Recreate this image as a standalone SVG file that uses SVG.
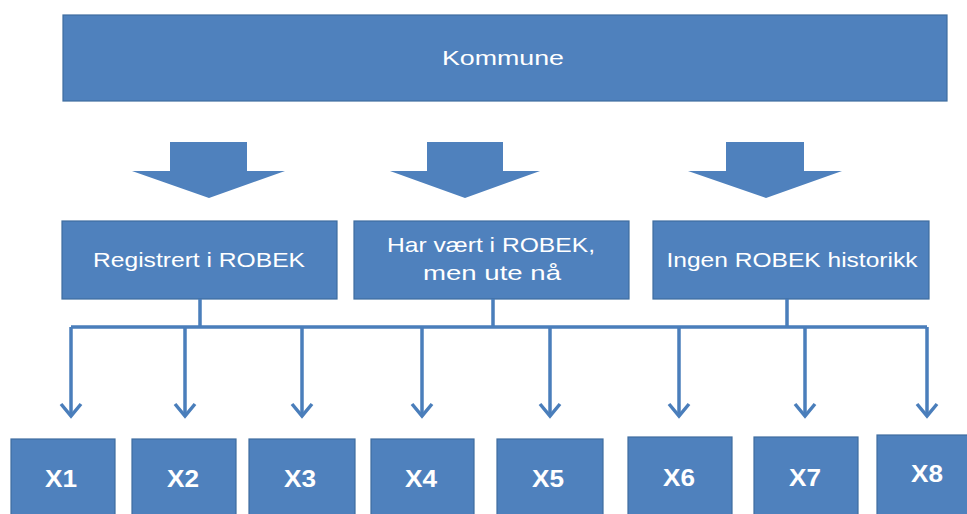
<svg xmlns="http://www.w3.org/2000/svg" width="967" height="514" viewBox="0 0 967 514">
  <defs>
    <style>
      .box { fill: #4F81BD; stroke: #3F6D9F; stroke-width: 1.2; }
      .big { fill: #4F81BD; stroke: none; }
      .lbl { fill: #FFFFFF; font-family: "Liberation Sans", Arial, sans-serif; font-size: 21px; text-anchor: middle; }
      .xl { fill: #FFFFFF; font-family: "Liberation Sans", Arial, sans-serif; font-size: 23px; font-weight: bold; text-anchor: middle; }
      .con { fill: none; stroke: #4A7EBB; stroke-width: 3.5; }
      .drop { fill: none; stroke: #4A7EBB; stroke-width: 3.5; marker-end: url(#vhead); }
    </style>
    <marker id="vhead" markerUnits="userSpaceOnUse" orient="auto" refX="0" refY="0" markerWidth="30" markerHeight="30" overflow="visible">
      <path d="M-12,-10 L0,0 L-12,10" fill="none" stroke="#4A7EBB" stroke-width="3.5" stroke-linejoin="miter"/>
    </marker>
  </defs>
  <rect width="967" height="514" fill="#FFFFFF"/>

  <g id="kommune">
    <rect class="box" x="63" y="15" width="884" height="86"/>
    <text class="lbl" x="503" y="65" textLength="122" lengthAdjust="spacingAndGlyphs">Kommune</text>
  </g>

  <g id="big-arrows">
    <polygon id="arrow1" class="big" points="170,142 247,142 247,171 285,171 209,198 132,171 170,171"/>
    <polygon id="arrow2" class="big" points="427,142 503,142 503,171 540,171 465,198 390,171 427,171"/>
    <polygon id="arrow3" class="big" points="726,142 804,142 804,171 842,171 766,198 688,171 726,171"/>
  </g>

  <g id="registrert">
    <rect class="box" x="62" y="221" width="275" height="78"/>
    <text class="lbl" x="199" y="267" textLength="212" lengthAdjust="spacingAndGlyphs">Registrert i ROBEK</text>
  </g>
  <g id="har-vaert">
    <rect class="box" x="354" y="221" width="275" height="78"/>
    <text class="lbl" x="491" y="252" textLength="208" lengthAdjust="spacingAndGlyphs">Har vært i ROBEK,</text>
    <text class="lbl" x="492" y="280" textLength="138" lengthAdjust="spacingAndGlyphs">men ute nå</text>
  </g>
  <g id="ingen">
    <rect class="box" x="653" y="221" width="276" height="78"/>
    <text class="lbl" x="792" y="267" textLength="251" lengthAdjust="spacingAndGlyphs">Ingen ROBEK historikk</text>
  </g>

  <g id="connectors">
    <path class="con" d="M200,299 V327 M493,299 V327 M787,299 V327 M71,327 H927"/>
    <path class="drop" d="M71,327 V416"/>
    <path class="drop" d="M185,327 V416"/>
    <path class="drop" d="M302,327 V416"/>
    <path class="drop" d="M422,327 V416"/>
    <path class="drop" d="M550,327 V416"/>
    <path class="drop" d="M679,327 V416"/>
    <path class="drop" d="M805,327 V416"/>
    <path class="drop" d="M927,327 V416"/>
  </g>

  <g id="x1">
    <rect class="box" x="11" y="439" width="104" height="90"/>
    <text class="xl" x="61" y="487" textLength="32" lengthAdjust="spacingAndGlyphs">X1</text>
  </g>
  <g id="x2">
    <rect class="box" x="132" y="439" width="104" height="90"/>
    <text class="xl" x="183" y="487" textLength="32" lengthAdjust="spacingAndGlyphs">X2</text>
  </g>
  <g id="x3">
    <rect class="box" x="249" y="439" width="106" height="90"/>
    <text class="xl" x="300" y="487" textLength="32" lengthAdjust="spacingAndGlyphs">X3</text>
  </g>
  <g id="x4">
    <rect class="box" x="371" y="439" width="103" height="90"/>
    <text class="xl" x="421" y="487" textLength="32" lengthAdjust="spacingAndGlyphs">X4</text>
  </g>
  <g id="x5">
    <rect class="box" x="497" y="439" width="106" height="90"/>
    <text class="xl" x="548" y="487" textLength="32" lengthAdjust="spacingAndGlyphs">X5</text>
  </g>
  <g id="x6">
    <rect class="box" x="628" y="437" width="104" height="90"/>
    <text class="xl" x="679" y="486" textLength="32" lengthAdjust="spacingAndGlyphs">X6</text>
  </g>
  <g id="x7">
    <rect class="box" x="754" y="437" width="104" height="90"/>
    <text class="xl" x="805" y="486" textLength="32" lengthAdjust="spacingAndGlyphs">X7</text>
  </g>
  <g id="x8">
    <rect class="box" x="877" y="435" width="104" height="90"/>
    <text class="xl" x="927" y="482" textLength="32" lengthAdjust="spacingAndGlyphs">X8</text>
  </g>
</svg>
